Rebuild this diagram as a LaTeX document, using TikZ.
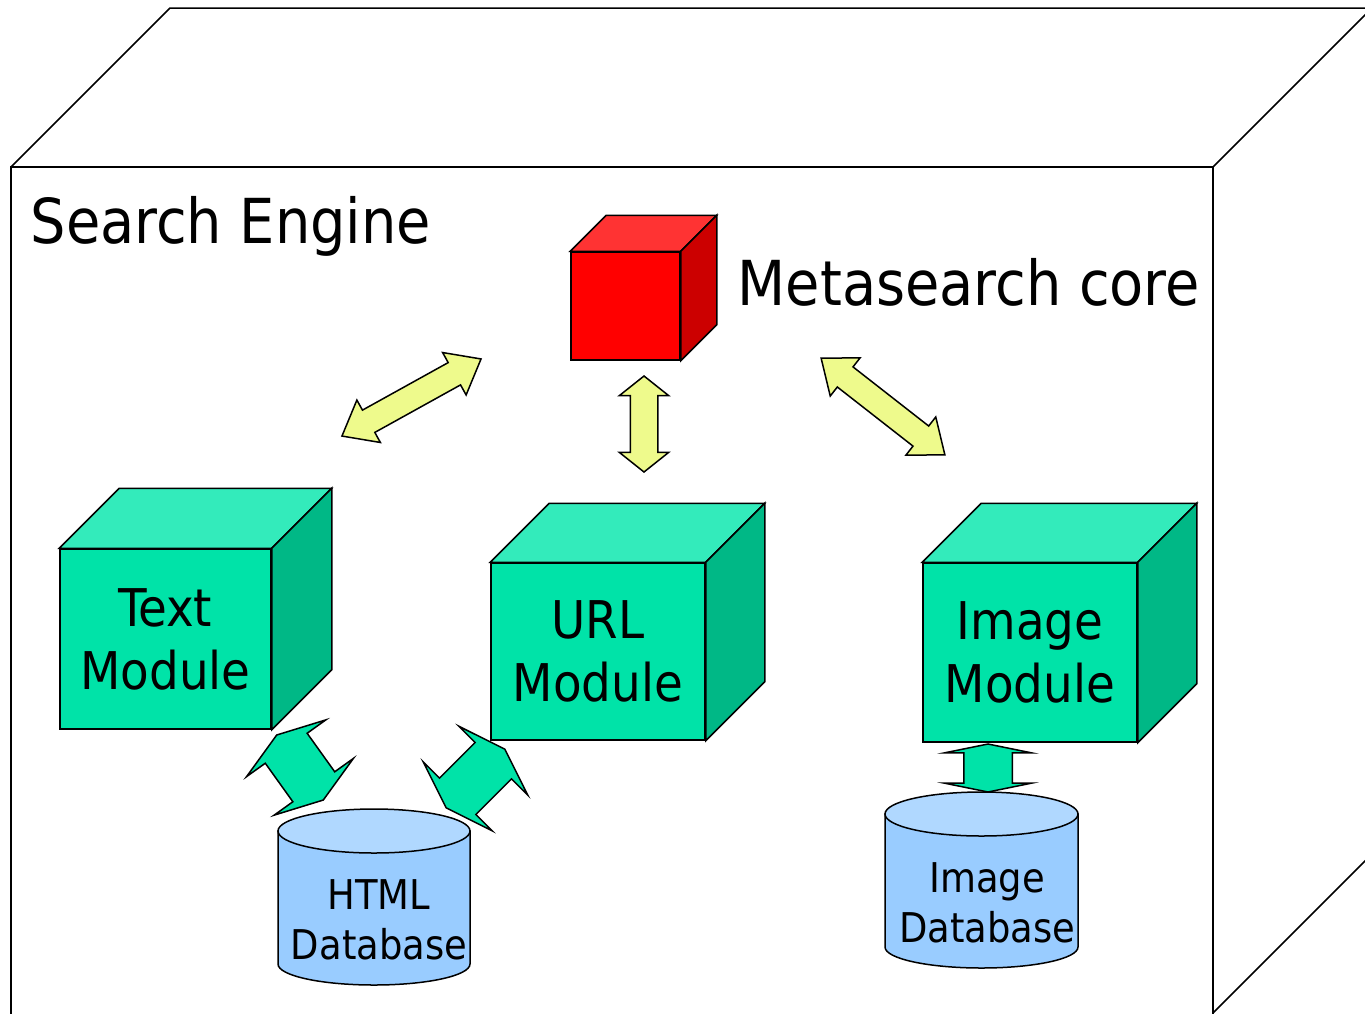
\documentclass[tikz,border=0pt]{standalone}
\usepackage{fontspec}
\setmainfont{DejaVu Sans Condensed}
\usetikzlibrary{calc,shapes.arrows}
\definecolor{corefront}{HTML}{FF0000}
\definecolor{coretop}{HTML}{FF3333}
\definecolor{coreside}{HTML}{CC0000}
\definecolor{modfront}{HTML}{00E3A8}
\definecolor{modtop}{HTML}{33EBBB}
\definecolor{modside}{HTML}{00B886}
\definecolor{dbbody}{HTML}{99CCFF}
\definecolor{dbtop}{HTML}{B0D8FF}
\definecolor{linkfill}{HTML}{EEFA8C}
\def\cubefaces(#1)(#2:#3:#4){%
  \draw[fill=#3] (#1.north west) -- ++(#2,-#2) -- ($(#1.north east)+(#2,-#2)$) -- (#1.north east) -- cycle;
  \draw[fill=#4] (#1.north east) -- ++(#2,-#2) -- ($(#1.south east)+(#2,-#2)$) -- (#1.south east) -- cycle;}

\begin{document}
\begin{tikzpicture}[x=1pt, y=-1pt, line width=1.5pt,
    face/.style={draw, inner sep=0pt, align=center},
    modlabel/.style={face, fill=modfront, font=\fontsize{52}{63}\selectfont},
    dblabel/.style={align=center, inner sep=0pt, font=\fontsize{41}{50}\selectfont},
    biglabel/.style={inner sep=0pt, font=\fontsize{62}{70}\selectfont},
    link/.style={double arrow, draw, fill=linkfill, inner xsep=0pt, inner ysep=12pt, double arrow head extend=11.5pt, double arrow tip angle=77},
    fatlink/.style={double arrow, draw, fill=modfront, inner xsep=0pt, inner ysep=25pt, double arrow head extend=23pt, double arrow tip angle=143}]
    \useasboundingbox (0,0) rectangle (1365,1013);
    \clip (0,0) rectangle (1365,1013);
    
    %%%%% outer box %%%%%
    \draw (11,1020) -- (11,167) -- (1213,167) -- (1213,1020);
    \draw (11,167) -- (170,8) -- (1380,8);
    \draw (1213,167) -- (1372,8);
    \draw (1213,1013) -- (1372,854);
    \node[biglabel, anchor=base west] (title) at (30,243) {Search Engine};
    
    %%%%% core %%%%%
    \node[face, fill=corefront, minimum width=109, minimum height=108] (core) at (625.5,306) {};
    \cubefaces(core)(36:coretop:coreside)
    \node[biglabel, anchor=base west] (coretitle) at (737,305) {Metasearch core};
    
    %%%%% modules %%%%%
    \node[modlabel, minimum width=211, minimum height=180] (text) at (165.5,639) {Text\\Module};
    \cubefaces(text)(60:modtop:modside)
    \node[modlabel, minimum width=214, minimum height=177] (url) at (598,651.5) {URL\\Module};
    \cubefaces(url)(59:modtop:modside)
    \node[modlabel, minimum width=214, minimum height=179] (image) at (1030,652.5) {Image\\Module};
    \cubefaces(image)(59:modtop:modside)
    
    %%%%% databases %%%%%
    \draw[fill=dbbody] (278,831) -- (278,964) arc[start angle=180, end angle=0, x radius=96, y radius=21] -- (470,831) -- cycle;
    \draw[fill=dbtop] (374,831) ellipse[x radius=96, y radius=22];
    \node[dblabel] (htmldb) at (379,920) {HTML\\Database};
    
    \draw[fill=dbbody] (885,814) -- (885,947) arc[start angle=180, end angle=0, x radius=96.5, y radius=21] -- (1078,814) -- cycle;
    \draw[fill=dbtop] (981.5,814) ellipse[x radius=96.5, y radius=22];
    \node[dblabel] (imagedb) at (987,903) {Image\\Database};
    
    %%%%% links %%%%%
    \node[link, minimum height=159, rotate=29] (toText) at (411.5,397.5) {};
    \node[link, minimum height=96, inner ysep=13pt, double arrow head extend=11pt, double arrow tip angle=103, rotate=90] (toUrl) at (644,424) {};
    \node[link, minimum height=157, rotate=-38] (toImage) at (883,406.5) {};
    
    \node[fatlink, minimum height=80, rotate=-54.4] (textHtml) at (300,767.5) {};
    \node[fatlink, minimum height=83, rotate=45] (urlHtml) at (475.5,778.5) {};
    \node[fatlink, minimum height=48, inner ysep=23.5pt, double arrow head extend=19pt, double arrow tip angle=157, rotate=90] (imageImg) at (988,768) {};
    
\end{tikzpicture}
\end{document}
